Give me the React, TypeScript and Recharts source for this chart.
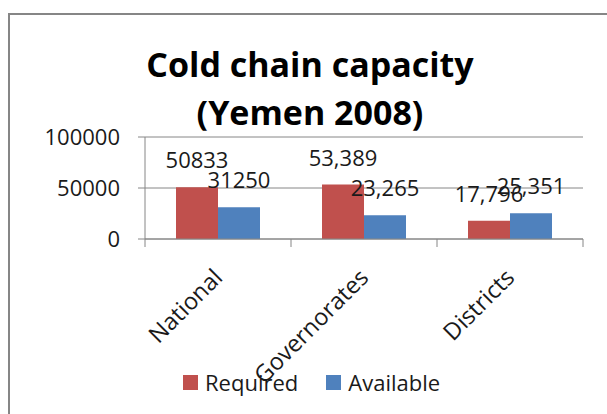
import React from 'react';
import { BarChart, Bar, XAxis, YAxis, CartesianGrid, LabelList } from 'recharts';

const categories = ['National', 'Governorates', 'Districts'];
const required = [50833, 53389, 17796];
const available = [31250, 23265, 25351];
const requiredLabels = ['50833', '53,389', '17,796'];
const availableLabels = ['31250', '23,265', '25,351'];
const yTicks = [0, 50000, 100000];

const data = categories.map((name, i) => ({
    name,
    required: required[i],
    available: available[i],
    requiredLabel: requiredLabels[i],
    availableLabel: availableLabels[i],
}));

const FONT = '"Open Sans", sans-serif';
const AXIS_GREY = '#868686';

// category label rotated 45deg plus Excel-style tick marks on band edges
const CategoryTick = (props: any) => {
    const { x, y, payload, index } = props;
    const half = payload?.offset ?? 73;
    const isLast = index === categories.length - 1;
    const ax = x + 6;
    const ay = y + 40;
    return (
        <g>
            <line x1={x - half} y1={y} x2={x - half} y2={y + 8} stroke={AXIS_GREY} strokeWidth={1} />
            {isLast && <line x1={x + half} y1={y} x2={x + half} y2={y + 8} stroke={AXIS_GREY} strokeWidth={1} />}
            <text
                x={ax}
                y={ay}
                textAnchor="end"
                transform={`rotate(-45, ${ax}, ${ay})`}
                fill="#1a1a1a"
                fontSize={23.5}
                fontFamily={FONT}
            >
                {payload.value}
            </text>
        </g>
    );
};

export default function App() {
    return (
        <div style={{ position: 'absolute', left: 0, top: 0, width: 607, height: 414, overflow: 'hidden', background: '#fff' }}>
            <div style={{ position: 'absolute', left: 8, top: 13, width: 700, height: 500, border: `2px solid ${AXIS_GREY}`, boxSizing: 'border-box' }} />

            <div
                style={{
                    position: 'absolute',
                    left: 0,
                    width: 620,
                    top: 40,
                    textAlign: 'center',
                    fontFamily: FONT,
                    fontWeight: 700,
                    fontSize: 34,
                    lineHeight: '48px',
                    color: '#000',
                }}
            >
                <div>Cold chain capacity</div>
                <div>(Yemen 2008)</div>
            </div>

            <div style={{ position: 'absolute', left: 0, top: 0 }}>
                <BarChart
                    width={607}
                    height={414}
                    data={data}
                    margin={{ top: 137, right: 24, left: 0, bottom: 75 }}
                    barCategoryGap={31}
                    barGap={0}
                >
                    <CartesianGrid vertical={false} stroke={AXIS_GREY} strokeWidth={1} />
                    <XAxis
                        dataKey="name"
                        height={100}
                        interval={0}
                        axisLine={{ stroke: AXIS_GREY }}
                        tickLine={false}
                        tickSize={0}
                        tickMargin={0}
                        tick={<CategoryTick />}
                    />
                    <YAxis
                        width={145}
                        domain={[0, 100000]}
                        ticks={yTicks}
                        interval={0}
                        axisLine={{ stroke: AXIS_GREY }}
                        tickLine={{ stroke: AXIS_GREY }}
                        tickSize={7}
                        tickMargin={18}
                        tick={{ fill: '#1a1a1a', fontSize: 22, fontFamily: FONT }}
                    />
                    <Bar dataKey="required" fill="#C0504D" isAnimationActive={false}>
                        <LabelList dataKey="requiredLabel" position="top" offset={19} fill="#1a1a1a" fontSize={22} fontFamily={FONT} />
                    </Bar>
                    <Bar dataKey="available" fill="#4F81BD" isAnimationActive={false}>
                        <LabelList dataKey="availableLabel" position="top" offset={19} fill="#1a1a1a" fontSize={22} fontFamily={FONT} />
                    </Bar>
                </BarChart>
            </div>

            <div
                style={{
                    position: 'absolute',
                    left: 183,
                    top: 367,
                    height: 30,
                    display: 'flex',
                    alignItems: 'center',
                    fontFamily: FONT,
                    fontSize: 22,
                    lineHeight: '30px',
                    color: '#1a1a1a',
                }}
            >
                <span style={{ width: 15, height: 15, background: '#C0504D', display: 'inline-block' }} />
                <span style={{ marginLeft: 7 }}>Required</span>
                <span style={{ width: 15, height: 15, background: '#4F81BD', display: 'inline-block', marginLeft: 28 }} />
                <span style={{ marginLeft: 7 }}>Available</span>
            </div>
        </div>
    );
}
